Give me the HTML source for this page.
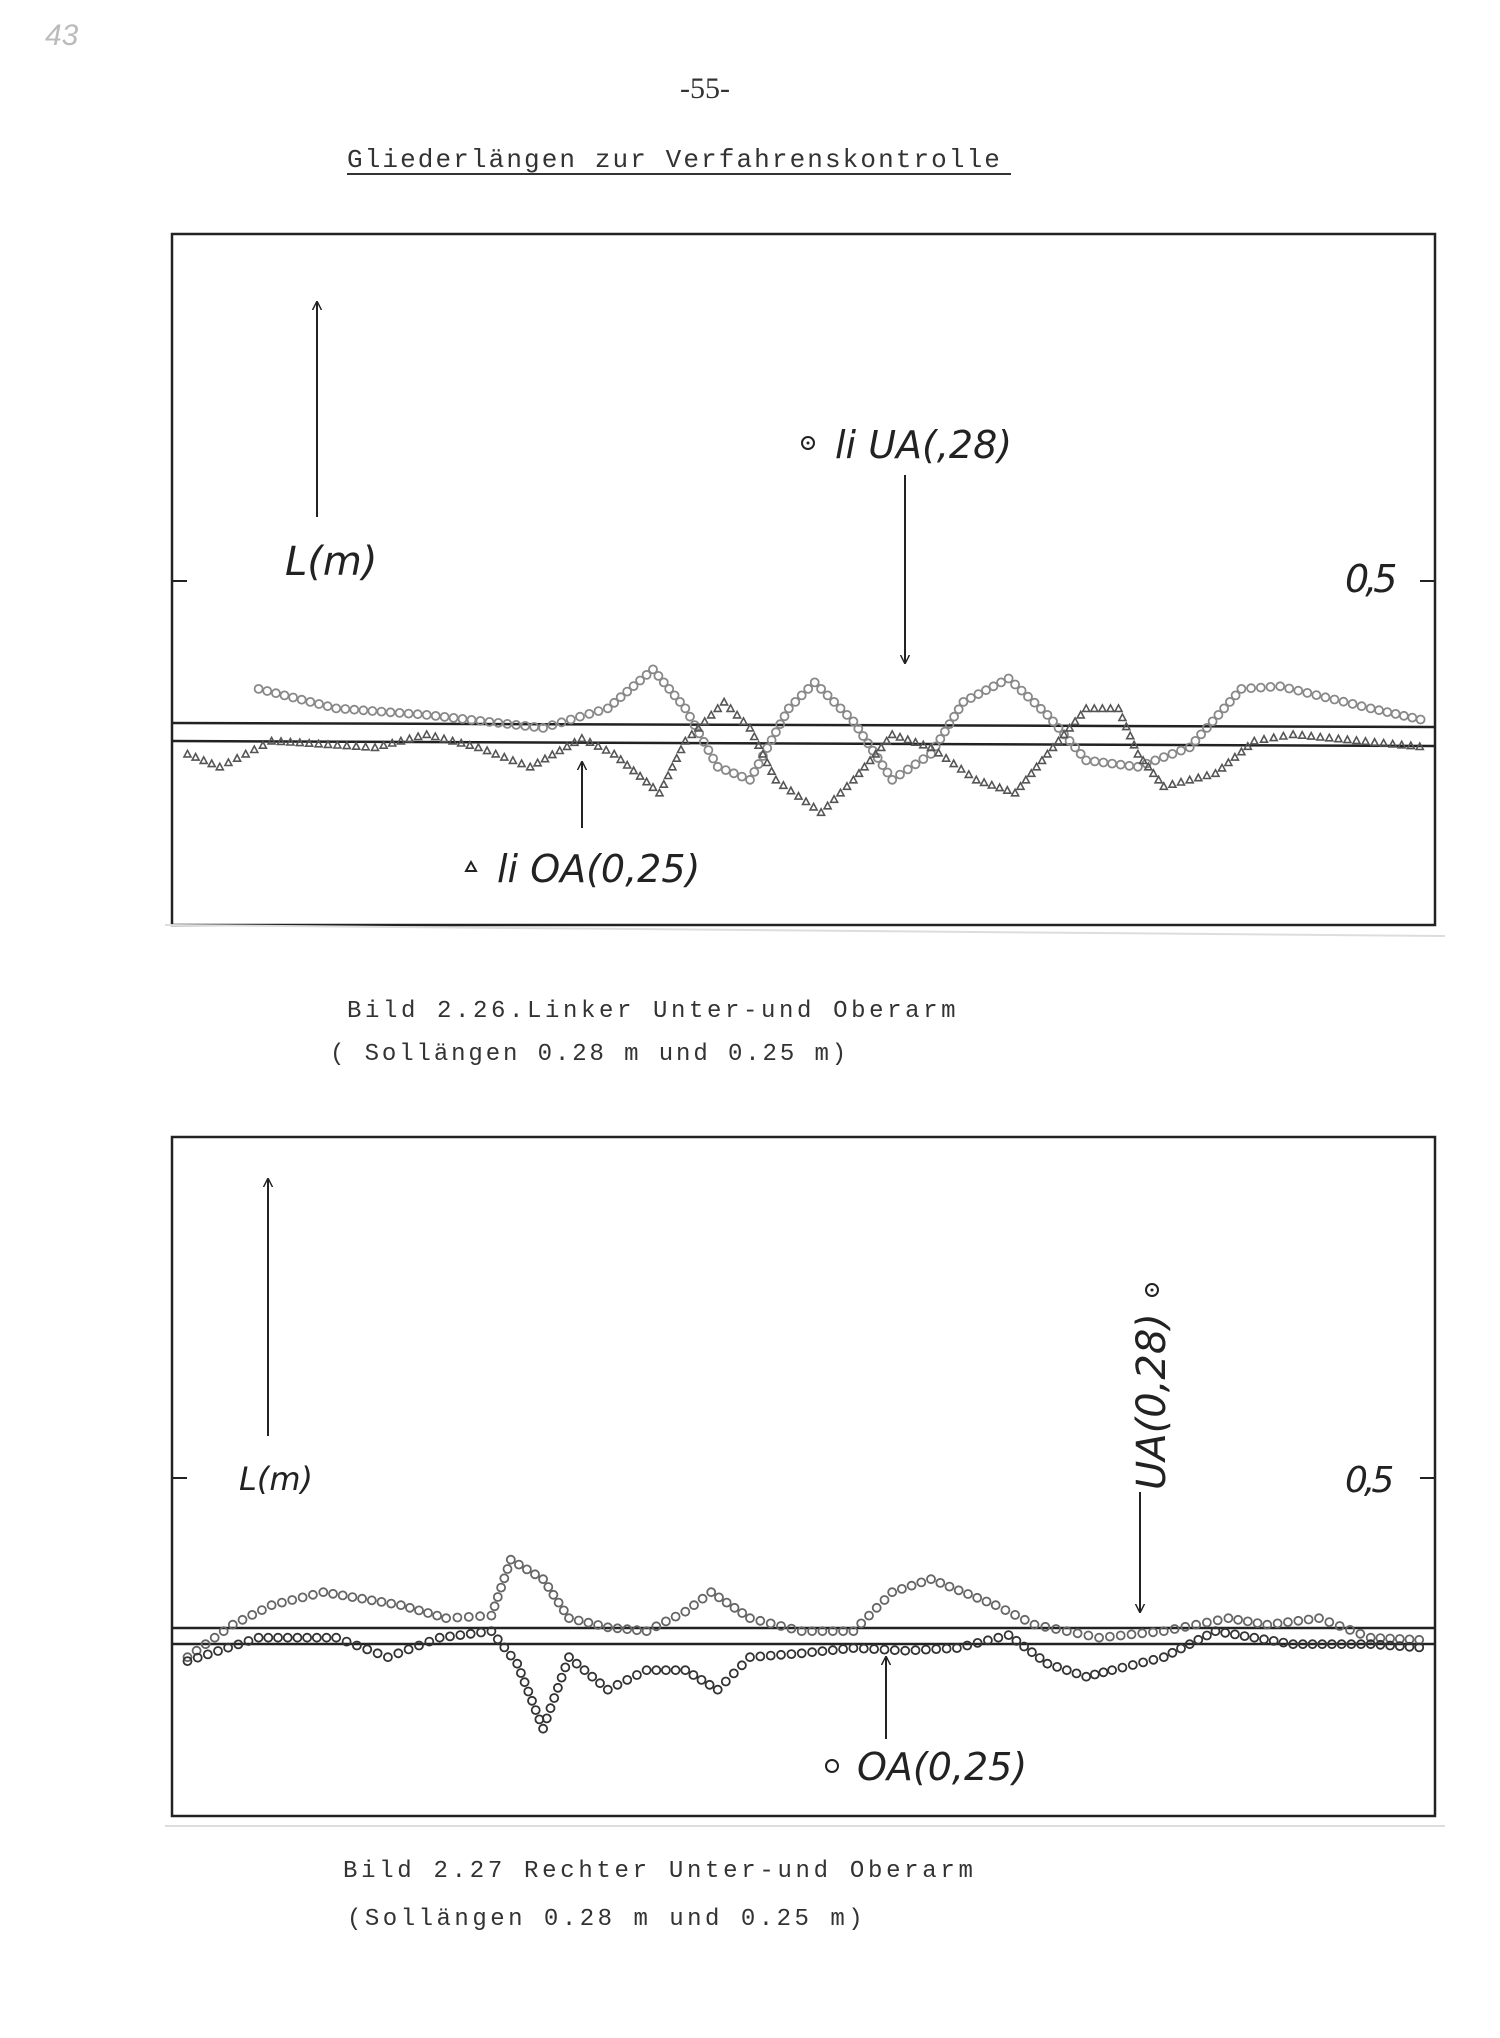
<!DOCTYPE html>
<html><head><meta charset="utf-8"><style>
html,body{margin:0;padding:0;background:#fff}
body{width:1500px;height:2038px;position:relative;overflow:hidden}
</style></head><body>
<svg id="s" width="1500" height="2038" viewBox="0 0 1500 2038" xmlns="http://www.w3.org/2000/svg" style="position:absolute;left:0;top:0">
<defs><marker id="ah" viewBox="0 0 10 10" refX="9" refY="5" markerWidth="9" markerHeight="12" orient="auto" markerUnits="userSpaceOnUse"><path d="M0,0 L10,5 L0,10" fill="none" stroke="#222" stroke-width="1.6"/></marker></defs>
<text x="45" y="45" font-family="Liberation Sans,sans-serif" font-style="italic" font-size="30" fill="#bbb">43</text>
<text x="705" y="98" text-anchor="middle" font-family="Liberation Serif,serif" font-size="30" fill="#333">-55-</text>
<text x="347" y="167" font-family="Liberation Mono,monospace" font-size="26" letter-spacing="2.1" fill="#333">Gliederlängen zur Verfahrenskontrolle</text>
<line x1="347" y1="174" x2="1011" y2="174" stroke="#333" stroke-width="2"/>
<!-- chart 1 -->
<rect x="172" y="234" width="1263" height="691" fill="none" stroke="#222" stroke-width="2.5"/>
<line x1="165" y1="925" x2="1445" y2="936" stroke="#ddd" stroke-width="2"/>
<line x1="172" y1="581" x2="187" y2="581" stroke="#222" stroke-width="2"/>
<line x1="1420" y1="581" x2="1435" y2="581" stroke="#222" stroke-width="2"/>
<line x1="317" y1="517" x2="317" y2="302" stroke="#222" stroke-width="2" marker-end="url(#ah)"/>
<text x="285" y="575" font-family="DejaVu Sans,sans-serif" font-style="italic" font-size="40" font-weight="300" fill="#222">L(m)</text>
<text x="1345" y="592" font-family="DejaVu Sans,sans-serif" font-style="italic" font-size="38" fill="#222" letter-spacing="-4">0,5</text>
<circle cx="808" cy="443" r="6" fill="none" stroke="#222" stroke-width="2"/><circle cx="808" cy="443" r="1.5" fill="#222"/>
<text x="835" y="458" font-family="DejaVu Sans,sans-serif" font-style="italic" font-size="38" fill="#222">li UA(,28)</text>
<line x1="905" y1="475" x2="905" y2="663" stroke="#222" stroke-width="2" marker-end="url(#ah)"/>
<line x1="172" y1="723" x2="1435" y2="727" stroke="#222" stroke-width="2.5"/>
<line x1="172" y1="741" x2="1435" y2="746" stroke="#222" stroke-width="2.5"/>
<line x1="582" y1="828" x2="582" y2="762" stroke="#222" stroke-width="2" marker-end="url(#ah)"/>
<path d="M466,871 l5,-9 l5,9 z" fill="none" stroke="#222" stroke-width="2"/>
<text x="497" y="882" font-family="DejaVu Sans,sans-serif" font-style="italic" font-size="38" fill="#222">li OA(0,25)</text>
<text x="347" y="1017" font-family="Liberation Mono,monospace" font-size="24" letter-spacing="3.6" fill="#333">Bild 2.26.Linker Unter-und Oberarm</text>
<text x="330" y="1060" font-family="Liberation Mono,monospace" font-size="24" letter-spacing="2.9" fill="#333">( Sollängen 0.28 m und 0.25 m)</text>
<!-- chart 2 -->
<rect x="172" y="1137" width="1263" height="679" fill="none" stroke="#222" stroke-width="2.5"/>
<line x1="165" y1="1826" x2="1445" y2="1826" stroke="#ddd" stroke-width="2"/>
<line x1="172" y1="1478" x2="187" y2="1478" stroke="#222" stroke-width="2"/>
<line x1="1420" y1="1478" x2="1435" y2="1478" stroke="#222" stroke-width="2"/>
<line x1="268" y1="1436" x2="268" y2="1179" stroke="#222" stroke-width="2" marker-end="url(#ah)"/>
<text x="239" y="1490" font-family="DejaVu Sans,sans-serif" font-style="italic" font-size="32" fill="#222">L(m)</text>
<text x="1345" y="1492" font-family="DejaVu Sans,sans-serif" font-style="italic" font-size="36" fill="#222" letter-spacing="-4">0,5</text>
<text transform="translate(1165,1490) rotate(-90)" font-family="DejaVu Sans,sans-serif" font-style="italic" font-size="40" fill="#222">UA(0,28)</text>
<circle cx="1152" cy="1290" r="6" fill="none" stroke="#222" stroke-width="2"/><circle cx="1152" cy="1290" r="1.5" fill="#222"/>
<line x1="1140" y1="1492" x2="1140" y2="1612" stroke="#222" stroke-width="2" marker-end="url(#ah)"/>
<line x1="172" y1="1628" x2="1435" y2="1628" stroke="#222" stroke-width="2.5"/>
<line x1="172" y1="1644" x2="1435" y2="1644" stroke="#222" stroke-width="2.5"/>
<line x1="886" y1="1739" x2="886" y2="1657" stroke="#222" stroke-width="2" marker-end="url(#ah)"/>
<circle cx="832" cy="1766" r="6" fill="none" stroke="#222" stroke-width="2"/>
<text x="857" y="1780" font-family="DejaVu Sans,sans-serif" font-style="italic" font-size="38" fill="#222">OA(0,25)</text>
<text x="343" y="1877" font-family="Liberation Mono,monospace" font-size="24" letter-spacing="3.7" fill="#333">Bild 2.27 Rechter Unter-und Oberarm</text>
<text x="347" y="1925" font-family="Liberation Mono,monospace" font-size="24" letter-spacing="3.5" fill="#333">(Sollängen 0.28 m und 0.25 m)</text>
<g id="pts"></g>
</svg>
<script>
var sx=1500/1160, sy=2038/1568, g=document.getElementById('pts'), out='';
function run(pts,kind,col,step){
 for(var i=0;i<pts.length-1;i++){
  var a=pts[i],b=pts[i+1],d=Math.hypot(b[0]-a[0],b[1]-a[1]),n=Math.max(1,Math.round(d/step));
  for(var k=0;k<n;k++){var t=k/n,x=(a[0]+(b[0]-a[0])*t)*sx,y=(a[1]+(b[1]-a[1])*t)*sy;
   if(kind=='c') out+='<circle cx="'+x.toFixed(1)+'" cy="'+y.toFixed(1)+'" r="4" fill="none" stroke="'+col+'" stroke-width="1.8"/>';
   else out+='<path d="M'+(x-3.5).toFixed(1)+','+(y+3).toFixed(1)+' l3.5,-6.5 l3.5,6.5 z" fill="none" stroke="'+col+'" stroke-width="1.6"/>';
  }}
}
run([[200,530],[260,545],[330,550],[420,560],[470,545],[505,515],[530,545],[555,590],[580,600],[610,545],[630,525],[660,555],[690,600],[720,580],[745,540],[780,522],[810,550],[840,585],[880,590],[920,575],[960,530],[990,528],[1060,545],[1105,555]],'c','#888',7);
run([[145,580],[170,590],[210,570],[290,575],[330,565],[370,575],[410,590],[450,568],[475,580],[510,610],[530,570],[560,540],[580,560],[600,600],[635,625],[660,600],[690,565],[720,575],[755,600],[785,610],[810,580],[840,545],[865,545],[880,580],[900,605],[940,595],[970,570],[1000,565],[1105,575]],'t','#555',7);
run([[145,1275],[180,1250],[210,1235],[250,1225],[310,1235],[345,1245],[380,1243],[395,1200],[420,1215],[440,1245],[470,1252],[500,1255],[530,1240],[550,1225],[580,1245],[620,1255],[660,1255],[690,1225],[720,1215],[770,1235],[800,1250],[850,1260],[900,1255],[950,1245],[980,1250],[1020,1245],[1060,1260],[1105,1262]],'c','#666',8);
run([[145,1278],[200,1260],[260,1260],[300,1275],[340,1260],[380,1255],[400,1280],[420,1330],[440,1275],[470,1300],[500,1285],[530,1285],[555,1300],[580,1275],[620,1272],[660,1268],[700,1270],[740,1268],[780,1258],[810,1280],[840,1290],[860,1285],[900,1275],[940,1255],[1000,1265],[1060,1265],[1105,1268]],'c','#333',8);
g.innerHTML=out;
</script>
</body></html>
